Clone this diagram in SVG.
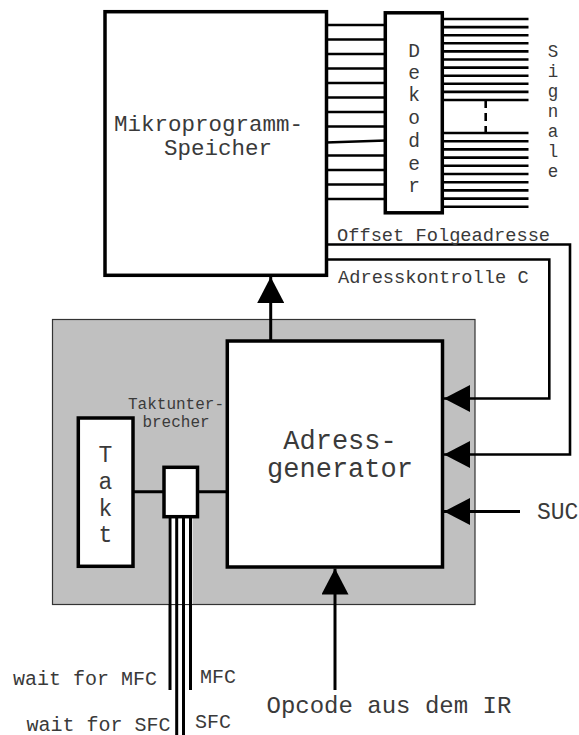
<svg xmlns="http://www.w3.org/2000/svg" width="579" height="735" viewBox="0 0 579 735">
<defs>
<style>
.box{fill:#fff;stroke:#000;stroke-width:3.5}
.w{stroke:#000;stroke-width:2.6;fill:none}
.c{stroke:#000;stroke-width:3;fill:none}
.t{font-family:"Liberation Mono","Courier New",monospace;fill:#3a3a3a}
</style>
<marker id="arr" viewBox="0 0 26 27" refX="26" refY="13.5" markerWidth="26" markerHeight="27" orient="auto" markerUnits="userSpaceOnUse">
<path d="M0,0 L26,13.5 L0,27 z" fill="#000"/>
</marker>
</defs>
<rect width="579" height="735" fill="#fff"/>

<g id="gray-area">
<rect x="52.5" y="319.5" width="422.5" height="285" fill="#c0c0c0" stroke="#333" stroke-width="1.2"/>
</g>

<g id="connectors">
<path class="w" d="M326 25H386M326 39.5H386M326 54H386M326 68.5H386M326 83H386M326 97.5H386M326 112H386M326 126.5H386M326 142.5L386 140.5M326 155.5H386M326 170H386M326 184.5H386M326 199H386"/>
<path class="w" d="M442 19H528.5M442 27.1H528.5M442 35.2H528.5M442 43.3H528.5M442 51.4H528.5M442 59.5H528.5M442 67.6H528.5M442 75.7H528.5M442 83.8H528.5M442 91.9H528.5M442 100H528.5"/>
<path class="w" d="M442 133H528.5M442 141.2H528.5M442 149.4H528.5M442 157.6H528.5M442 165.8H528.5M442 174H528.5M442 182.2H528.5M442 190.4H528.5M442 198.6H528.5M442 206.8H528.5"/>
<path class="w" d="M485.7 100V133" stroke-dasharray="8,5"/>
<path class="w" d="M326 244.5H570V454.5H444" marker-end="url(#arr)"/>
<path class="w" d="M326 259.5H549.3V398.5H444" marker-end="url(#arr)"/>
<path class="c" d="M520 511.5H444" marker-end="url(#arr)"/>
<path class="c" d="M270.7 341V277" marker-end="url(#arr)"/>
<path class="c" d="M335 690V568.5" marker-end="url(#arr)"/>
<path class="c" d="M133 491.7H164M197.5 491.7H227.3"/>
<rect x="168" y="518" width="24.5" height="86" fill="#fff"/>
<path class="c" d="M170 517V690M176.7 517V735M183.5 517V735M190.5 517V690"/>
</g>

<g id="mikro">
<rect class="box" x="105" y="11.7" width="221.5" height="263.6"/>
<text class="t" x="114" y="130.5" font-size="22.5">Mikroprogramm-</text>
<text class="t" x="164" y="155" font-size="22.5">Speicher</text>
</g>

<g id="dekoder">
<rect class="box" x="385.3" y="12.8" width="57" height="200" stroke-width="3"/>
<text class="t" font-size="19.5" text-anchor="middle"><tspan x="414" y="57">D</tspan><tspan x="414" y="79">e</tspan><tspan x="414" y="101">k</tspan><tspan x="414" y="124">o</tspan><tspan x="414" y="147">d</tspan><tspan x="414" y="170">e</tspan><tspan x="414" y="192">r</tspan></text>
</g>

<g id="signale">
<text class="t" font-size="17.5" text-anchor="middle"><tspan x="553" y="57">S</tspan><tspan x="553" y="77">i</tspan><tspan x="553" y="97">g</tspan><tspan x="553" y="117">n</tspan><tspan x="553" y="137">a</tspan><tspan x="553" y="157">l</tspan><tspan x="553" y="177">e</tspan></text>
</g>

<g id="labels-feedback">
<text class="t" x="337" y="241" font-size="18.7">Offset Folgeadresse</text>
<text class="t" x="338" y="283.3" font-size="18.7">Adresskontrolle C</text>
<text class="t" x="537" y="518.5" font-size="23">SUC</text>
</g>

<g id="adressgenerator">
<rect class="box" x="227.3" y="341" width="215.2" height="226"/>
<text class="t" x="340" y="449" font-size="27" text-anchor="middle">Adress-</text>
<text class="t" x="340" y="477" font-size="27" text-anchor="middle">generator</text>
</g>

<g id="takt">
<rect class="box" x="78.3" y="418" width="54.7" height="148.3"/>
<text class="t" font-size="23" text-anchor="middle"><tspan x="105.5" y="462">T</tspan><tspan x="105.5" y="489">a</tspan><tspan x="105.5" y="515.5">k</tspan><tspan x="105.5" y="542">t</tspan></text>
</g>

<g id="taktunterbrecher">
<rect class="box" x="164" y="467.3" width="33.5" height="49.4"/>
<text class="t" x="176" y="409.3" font-size="16" text-anchor="middle">Taktunter-</text>
<text class="t" x="176" y="426.7" font-size="16" text-anchor="middle">brecher</text>
</g>

<g id="signal-labels">
<text class="t" x="13" y="685" font-size="20">wait for MFC</text>
<text class="t" x="200" y="683" font-size="20">MFC</text>
<text class="t" x="26.5" y="730.5" font-size="20">wait for SFC</text>
<text class="t" x="195" y="728.3" font-size="20">SFC</text>
<text class="t" x="266.5" y="713.3" font-size="24">Opcode aus dem IR</text>
</g>
</svg>
